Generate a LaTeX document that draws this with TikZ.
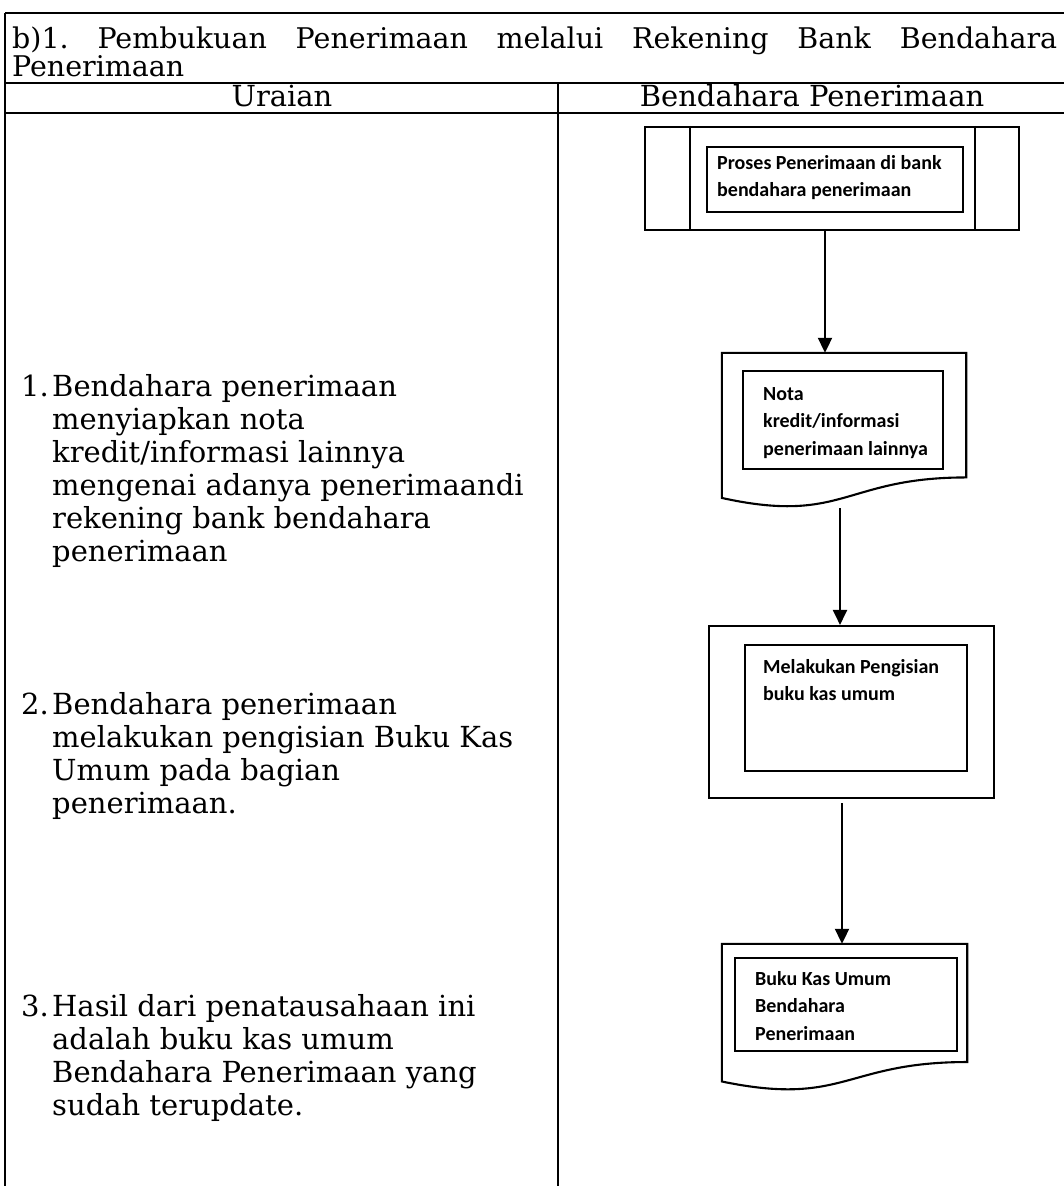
\documentclass[tikz,border=0pt]{standalone}
\usepackage{fontspec}
\setmainfont{DejaVu Serif}
\newfontfamily\boxfont{Carlito}
\usetikzlibrary{arrows.meta,calc}

% flowchart "document" symbol drawn over the frame of a node
\newcommand{\docpath}[1]{%
  \draw[shapeline] let \p1=(#1.north west), \p2=(#1.south east) in
    (\x1,\y1) -- (\x2,\y1) -- (\x2,{\y1+0.802*(\y2-\y1)})
    .. controls ({0.5*(\x1+\x2)},{\y1+0.802*(\y2-\y1)}) and ({0.5*(\x1+\x2)},{\y1+1.107*(\y2-\y1)})
    .. (\x1,{\y1+0.934*(\y2-\y1)}) -- cycle;}

\begin{document}
\frenchspacing
\begin{tikzpicture}[x=1pt,y=-1pt,
  grid/.style={line width=1.3pt},
  shapeline/.style={line width=2.1pt},
  bodytext/.style={inner sep=0pt, anchor=base west, font=\fontsize{29}{33}\selectfont},
  headtext/.style={inner sep=0pt, anchor=base, font=\fontsize{29}{33}\selectfont},
  frame/.style={draw, shapeline, inner sep=0pt},
  holder/.style={inner sep=0pt},
  boxlabel/.style={inner sep=0pt, anchor=base west,
    font=\boxfont\bfseries\fontsize{20}{27.5}\selectfont},
  arr/.style={line width=2pt, -{Triangle[length=15pt,width=14pt]}}]

\useasboundingbox (0,0) rectangle (1064,1186);

% table rules
\draw[grid] (5,13) -- (1064,13);
\draw[grid] (5,83) -- (1064,83);
\draw[grid] (5,113) -- (1064,113);
\draw[grid] (5,13) -- (5,1186);
\draw[grid] (558,83) -- (558,1186);

% title and column heads
\node[bodytext, font=\fontsize{28.5}{28}\selectfont] (title1) at (12,48)
  {\makebox[1045pt][s]{b)1. Pembukuan Penerimaan melalui Rekening Bank Bendahara}};
\node[bodytext, font=\fontsize{28.5}{28}\selectfont] (title2) at (12,76) {Penerimaan};
\node[headtext] (head1) at (282,106) {Uraian};
\node[headtext] (head2) at (812,106) {Bendahara Penerimaan};

% left column: description of the steps
\node[bodytext] (n1) at (21,396) {1.};
\node[bodytext] (t1) at (52,396) {\parbox[t]{500pt}{\raggedright
  Bendahara penerimaan\\menyiapkan nota\\kredit/informasi lainnya\\
  mengenai adanya penerimaandi\\rekening bank bendahara\\penerimaan}};
\node[bodytext] (n2) at (21,714) {2.};
\node[bodytext] (t2) at (52,714) {\parbox[t]{500pt}{\raggedright
  Bendahara penerimaan\\melakukan pengisian Buku Kas\\Umum pada bagian\\penerimaan.}};
\node[bodytext] (n3) at (21,1016) {3.};
\node[bodytext] (t3) at (52,1016) {\parbox[t]{500pt}{\raggedright
  Hasil dari penatausahaan ini\\adalah buku kas umum\\Bendahara Penerimaan yang\\sudah terupdate.}};

% predefined process
\node[frame, minimum width=374pt, minimum height=103pt] (p1) at (832,178.5) {};
\draw[shapeline] ([xshift=46pt]p1.north west) -- ([xshift=46pt]p1.south west);
\draw[shapeline] ([xshift=-45pt]p1.north east) -- ([xshift=-45pt]p1.south east);
\node[frame, minimum width=256pt, minimum height=65pt] (p1in) at (835,179.5) {};
\node[boxlabel] (p1txt) at (717,169) {\parbox[t]{240pt}{\raggedright
  Proses Penerimaan di bank\\bendahara penerimaan}};

% credit note document
\node[holder, minimum width=244pt, minimum height=155pt] (d2) at (844,430.5) {};
\docpath{d2}
\node[frame, minimum width=200pt, minimum height=98pt] (d2in) at (843,420) {};
\node[boxlabel] (d2txt) at (763,400) {\parbox[t]{180pt}{\raggedright
  Nota\\kredit/informasi\\penerimaan lainnya}};

% cash book entry process
\node[frame, minimum width=285pt, minimum height=172pt] (p3) at (851.5,712) {};
\node[frame, minimum width=222pt, minimum height=126pt] (p3in) at (856,708) {};
\node[boxlabel] (p3txt) at (763,673) {\parbox[t]{200pt}{\raggedright
  Melakukan Pengisian\\buku kas umum}};

% resulting cash book document
\node[holder, minimum width=245pt, minimum height=147pt] (d4) at (844.5,1017.5) {};
\docpath{d4}
\node[frame, minimum width=222pt, minimum height=93pt] (d4in) at (846,1004.5) {};
\node[boxlabel] (d4txt) at (755,985) {\parbox[t]{200pt}{\raggedright
  Buku Kas Umum\\Bendahara\\Penerimaan}};

% flow
\draw[arr] ([xshift=-7pt]p1.south) -- ([xshift=-19pt]d2.north);
\draw[arr] ([xshift=-4pt]d2.south) -- ([xshift=-11.5pt]p3.north);
\draw[arr, shorten <=4pt] ([xshift=-9.5pt]p3.south) -- ([xshift=-2.5pt]d4.north);
\end{tikzpicture}
\end{document}
